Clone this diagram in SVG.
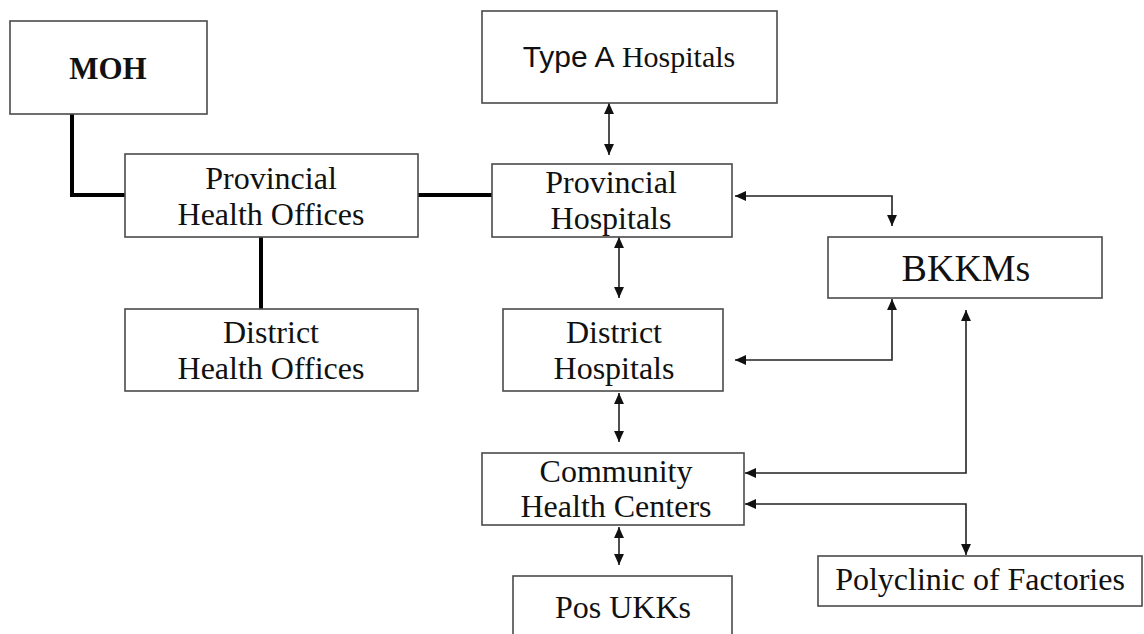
<svg xmlns="http://www.w3.org/2000/svg" width="1144" height="634" viewBox="0 0 1144 634">
<style>
.box{fill:#fff;stroke:#4a4a4a;stroke-width:1.6}
.t{font-family:"Liberation Serif","Times New Roman",serif;font-size:32px;fill:#111;text-anchor:middle}
.thick{fill:none;stroke:#000;stroke-width:4}
.conn{fill:none;stroke:#222;stroke-width:1.6;marker-start:url(#ah);marker-end:url(#ah)}
</style>
<defs>
<marker id="ah" viewBox="0 0 10 9" refX="10" refY="4.5" markerWidth="11" markerHeight="10" markerUnits="userSpaceOnUse" orient="auto-start-reverse">
<path d="M0,0 L10,4.5 L0,9 z" fill="#111"/>
</marker>
</defs>
<rect width="1144" height="634" fill="#fff"/>
<g id="connectors">
<path class="thick" d="M72,114 V195 H125"/>
<path class="thick" d="M418,195 H492"/>
<path class="thick" d="M261,237 V309"/>
<path class="conn" d="M609,103 V155"/>
<path class="conn" d="M619,237 V298"/>
<path class="conn" d="M735,196 H892 V226"/>
<path class="conn" d="M892,299 V360 H735"/>
<path class="conn" d="M966,310 V473 H745"/>
<path class="conn" d="M745,504 H966 V555"/>
<path class="conn" d="M619,393 V442"/>
<path class="conn" d="M619,527 V565"/>
</g>
<g id="moh">
<rect class="box" x="10" y="21" width="197" height="93"/>
<text class="t" x="108" y="79" style="font-weight:bold;font-size:31px">MOH</text>
</g>
<g id="pho">
<rect class="box" x="125" y="154" width="293" height="83"/>
<text class="t" x="271" y="189">Provincial</text>
<text class="t" x="271" y="225">Health Offices</text>
</g>
<g id="dho">
<rect class="box" x="125" y="309" width="293" height="82"/>
<text class="t" x="271" y="343">District</text>
<text class="t" x="271" y="379">Health Offices</text>
</g>
<g id="typea">
<rect class="box" x="482" y="11" width="295" height="92"/>
<text class="t" x="629" y="67" style="font-size:30px"><tspan style="font-family:'Liberation Sans',Arial,sans-serif">Type A</tspan> Hospitals</text>
</g>
<g id="ph">
<rect class="box" x="492" y="164" width="240" height="73"/>
<text class="t" x="611" y="193">Provincial</text>
<text class="t" x="611" y="229">Hospitals</text>
</g>
<g id="bkkms">
<rect class="box" x="828" y="237" width="274" height="61"/>
<text class="t" x="966" y="281" style="font-size:38px">BKKMs</text>
</g>
<g id="dh">
<rect class="box" x="503" y="309" width="220" height="82"/>
<text class="t" x="614" y="343">District</text>
<text class="t" x="614" y="379">Hospitals</text>
</g>
<g id="chc">
<rect class="box" x="482" y="453" width="262" height="72"/>
<text class="t" x="616" y="482">Community</text>
<text class="t" x="616" y="517">Health Centers</text>
</g>
<g id="pos">
<rect class="box" x="513" y="576" width="219" height="70"/>
<text class="t" x="623" y="618">Pos UKKs</text>
</g>
<g id="poly">
<rect class="box" x="818" y="556" width="324" height="50"/>
<text class="t" x="980" y="590">Polyclinic of Factories</text>
</g>
</svg>
